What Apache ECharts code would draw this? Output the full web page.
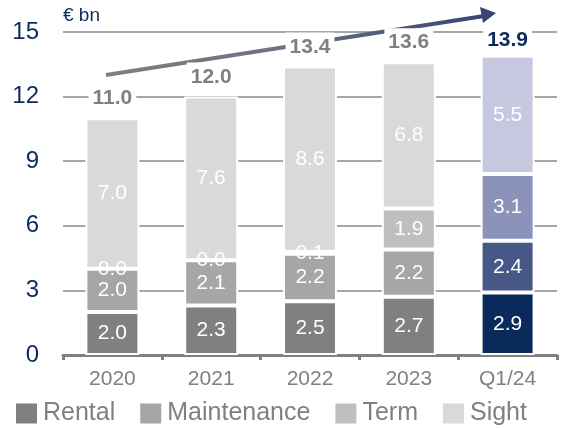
<!DOCTYPE html>
<html><head><meta charset="utf-8">
<script src="https://cdn.jsdelivr.net/npm/echarts@6/dist/echarts.min.js"></script>
<style>html,body{margin:0;padding:0;background:#fff}#c{width:562px;height:428px}</style>
</head><body><div id="c"></div>
<script>
const categories = ['2020','2021','2022','2023','Q1/24'];
const rental = [2.0, 2.3, 2.5, 2.7, 2.9];
const maintenance = [2.0, 2.1, 2.2, 2.2, 2.4];
const term = [0.0, 0.0, 0.1, 1.9, 3.1];
const sight = [7.0, 7.6, 8.6, 6.8, 5.5];
const totals = [11.0, 12.0, 13.4, 13.6, 13.9];
const yTicks = [0, 3, 6, 9, 12, 15];

const greyCols = {Rental:'#808080', Maintenance:'#a6a6a6', Term:'#bfbfbf', Sight:'#d9d9d9'};
const navyCols = {Rental:'#0b2a5c', Maintenance:'#475786', Term:'#8b93bb', Sight:'#c5c8de'};
const FONT = "'Liberation Sans', Arial, sans-serif";

function mk(name, arr){
  return {
    name: name, type:'bar', stack:'s', barWidth:54, z:2,
    itemStyle:{color:greyCols[name], borderColor:'#fff', borderWidth:2},
    label:{show:true, position:'inside', color:'#fff', fontSize:21, fontFamily:FONT,
      formatter:p=>Number(p.value).toFixed(1)},
    data: arr.map((v,i)=> i===arr.length-1 ? {value:v, itemStyle:{color:navyCols[name]}} : v)
  };
}

const chart = echarts.init(document.getElementById('c'));
chart.setOption({
  animation:false,
  textStyle:{fontFamily:FONT},
  grid:{left:63, right:5, top:32, bottom:73, containLabel:false},
  legend:{
    left:14, top:401, itemWidth:23, itemHeight:22, itemGap:23, padding:0,
    icon:'rect',
    textStyle:{color:'#808080', fontSize:25, fontFamily:FONT},
    data:['Rental','Maintenance','Term','Sight']
  },
  xAxis:{
    type:'category', data:categories,
    axisLine:{lineStyle:{color:'#808080', width:3}},
    axisTick:{show:true, length:5, lineStyle:{color:'#808080', width:3}},
    axisLabel:{color:'#808080', fontSize:21, margin:14, fontFamily:FONT}
  },
  yAxis:{
    type:'value', min:yTicks[0], max:yTicks[yTicks.length-1], interval:3,
    name:'€ bn', nameLocation:'end', nameGap:7,
    nameTextStyle:{color:'#0c2a5e', fontSize:19, align:'left', fontFamily:FONT},
    axisLine:{show:false}, axisTick:{show:false},
    axisLabel:{color:'#0c2a5e', fontSize:24, margin:24, fontFamily:FONT},
    splitLine:{lineStyle:{color:'#a6a6a6', width:2}}
  },
  graphic:[
    {type:'line', z:1, shape:{x1:106, y1:75, x2:484, y2:16},
      style:{lineWidth:4, stroke:new echarts.graphic.LinearGradient(0,0,1,0,[{offset:0,color:'#808080'},{offset:0.45,color:'#6d7284'},{offset:1,color:'#3a4472'}])}},
    {type:'polygon', z:1, shape:{points:[[496,13],[480,7],[483,23]]}, style:{fill:'#3a4472'}}
  ],
  series:[
    mk('Rental', rental),
    mk('Maintenance', maintenance),
    mk('Term', term),
    mk('Sight', sight),
    {
      name:'Total', type:'bar', z:3, barWidth:54, barGap:'-100%', silent:true,
      itemStyle:{color:'rgba(0,0,0,0)'},
      label:{show:true, position:'top', distance:7, fontSize:21, fontWeight:'bold', fontFamily:FONT,
        color:'#808080', backgroundColor:'#fff', padding:[4,4,2,4],
        formatter:p=>Number(p.value).toFixed(1)},
      data: totals.map((v,i)=> i===totals.length-1 ? {value:v, label:{color:'#0c2a5e', distance:3}} : v)
    }
  ]
});
</script></body></html>
